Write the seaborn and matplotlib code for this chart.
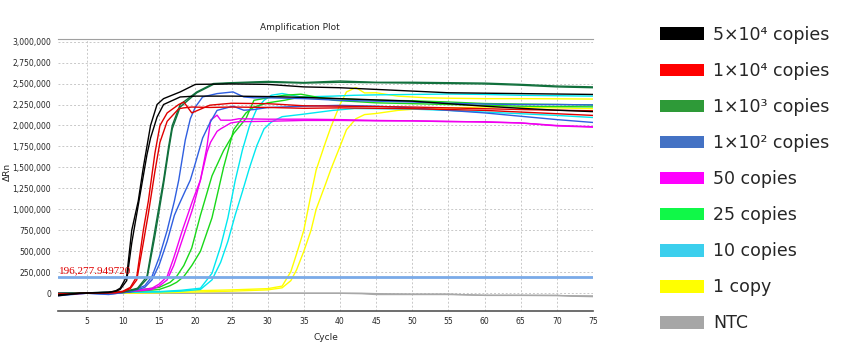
import numpy as np
import pandas as pd
import seaborn as sns
import matplotlib.pyplot as plt
from matplotlib.patches import Patch
from matplotlib.ticker import MultipleLocator, FuncFormatter

sns.set_style('white')
plt.rcParams['font.family'] = ['DejaVu Sans']

# dRn values, in thousands
samples = ['5×10⁴ copies', '1×10⁴ copies', '1×10³ copies', '1×10² copies',
           '50 copies', '25 copies', '10 copies', '1 copy', 'NTC']
line_colors = ['#000000', '#e00000', '#11703c', '#2f5fe0', '#f000f0',
               '#18d818', '#00e8f0', '#ffff00', '#a8a8a8']
legend_colors = ['#000000', '#ff0000', '#2e9a38', '#4472c4', '#ff00ff',
                 '#10f848', '#3bcfed', '#ffff00', '#a6a6a6']

cyc_black = [1, 4, 8, 9, 9.6, 10.5, 11.2, 12.1, 12.8, 13.3, 13.8, 14.7, 15.6, 17.9,
             20, 25, 30, 35, 40, 45, 50, 55, 60, 65, 70, 75]
black_a = [-30, 0, 10, 30, 60, 200, 750, 1100, 1500, 1750, 2000, 2250, 2320, 2400,
           2490, 2495, 2490, 2460, 2450, 2430, 2410, 2390, 2385, 2380, 2375, 2370]
black_b = [-20, 0, 10, 25, 45, 150, 600, 1050, 1400, 1650, 1850, 2100, 2250, 2340,
           2350, 2350, 2345, 2335, 2320, 2305, 2290, 2260, 2230, 2205, 2182, 2165]

cyc_red = [1, 5, 9, 10, 11, 11.9, 12.8, 13.5, 14.4, 15.1, 16.1, 17.7, 18.4, 19.5,
           22, 25, 30, 35, 40, 45, 50, 55, 60, 65, 70, 75]
red_a = [-10, 0, 10, 25, 70, 200, 750, 1100, 1667, 2000, 2150, 2250, 2280, 2150,
         2242, 2265, 2260, 2235, 2230, 2225, 2220, 2210, 2200, 2190, 2182, 2175]
red_b = [-10, 0, 5, 20, 55, 160, 600, 950, 1450, 1800, 2050, 2200, 2210, 2220,
         2215, 2220, 2215, 2205, 2210, 2205, 2200, 2190, 2180, 2160, 2140, 2120]

cyc_dkgreen = [1, 5, 10, 12, 13.3, 14.4, 15.1, 15.6, 16.3, 16.8, 17.9, 20.2, 22.5,
               25, 30, 35, 40, 45, 50, 55, 60, 65, 70, 75]
dkgreen_a = [0, 5, 15, 60, 200, 750, 1100, 1349, 1750, 2000, 2250, 2400, 2500,
             2510, 2525, 2512, 2530, 2515, 2515, 2510, 2505, 2490, 2470, 2460]
dkgreen_b = [0, 5, 15, 50, 170, 680, 1040, 1300, 1700, 1960, 2220, 2390, 2490,
             2505, 2515, 2505, 2515, 2510, 2505, 2500, 2495, 2480, 2460, 2450]

cyc_blue = [1, 5, 8, 11, 13, 14, 15, 16.1, 17.1, 17.7, 18.6, 19.3, 20, 21, 22, 23,
            25.2, 26.7, 28.1, 30, 35, 40, 45, 50, 55, 60, 65, 70, 75]
blue_a = [-30, 0, -15, 20, 90, 200, 430, 750, 1100, 1349, 1825, 2080, 2220, 2340,
          2360, 2380, 2400, 2340, 2330, 2330, 2320, 2300, 2290, 2280, 2265, 2255,
          2250, 2250, 2245]
blue_b = [-20, 0, -10, 15, 70, 160, 340, 620, 930, 1050, 1220, 1349, 1550, 1850,
          2030, 2180, 2230, 2182, 2190, 2214, 2230, 2240, 2230, 2210, 2180, 2150,
          2110, 2070, 2036]

cyc_magenta = [1, 5, 10, 14, 15, 16.1, 17, 18.2, 19.6, 20.7, 21.6, 22.1, 23, 23.5,
               24.9, 26, 30, 35, 40, 45, 50, 55, 60, 65, 70, 75]
magenta_a = [0, 5, 15, 60, 110, 200, 420, 750, 1100, 1349, 1746, 2063, 2123, 2063,
             2063, 2080, 2075, 2075, 2070, 2060, 2055, 2050, 2040, 2030, 2000, 1985]
magenta_b = [0, 5, 10, 45, 85, 160, 330, 640, 1000, 1350, 1680, 1800, 1930, 1960,
             2030, 2045, 2050, 2060, 2060, 2055, 2055, 2045, 2045, 2030, 1995, 1980]

cyc_green = [1, 5, 10, 15, 16.5, 17.4, 18.4, 19.5, 20.7, 22.3, 23.9, 25.3, 27, 28.1,
             30, 32.3, 34.6, 39.2, 45, 50, 55, 60, 65, 70, 75]
green_a = [0, 5, 15, 70, 130, 200, 330, 540, 930, 1400, 1700, 1905, 2083, 2300,
           2330, 2360, 2373, 2300, 2270, 2260, 2250, 2240, 2230, 2225, 2222]
green_b = [0, 5, 10, 45, 90, 130, 200, 330, 500, 900, 1500, 1950, 2150, 2220,
           2270, 2300, 2340, 2320, 2300, 2295, 2280, 2262, 2255, 2250, 2245]

cyc_cyan = [1, 5, 10, 15, 18, 20.7, 22.3, 23.5, 24.5, 25.5, 26.5, 27.5, 28.5, 29.5,
            30.5, 32, 34.6, 39, 42, 45, 50, 55, 60, 65, 70, 75]
cyan_a = [0, 5, 10, 20, 35, 60, 238, 560, 900, 1340, 1706, 2000, 2200, 2300,
          2360, 2381, 2340, 2350, 2360, 2365, 2370, 2375, 2370, 2360, 2355, 2350]
cyan_b = [0, 5, 10, 15, 25, 45, 160, 370, 620, 930, 1210, 1500, 1760, 1960,
          2040, 2105, 2131, 2180, 2202, 2200, 2195, 2180, 2160, 2140, 2120, 2095]

cyc_yellow = [1, 10, 15, 20, 25, 30, 32, 33.2, 34, 35, 36, 36.7, 38, 38.75, 40,
              40.9, 42.2, 43.4, 45, 48, 52, 55, 60, 65, 70, 75]
yellow_a = [0, 5, 15, 30, 40, 55, 85, 257, 470, 752, 1180, 1468, 1800, 1983, 2250,
            2400, 2452, 2388, 2390, 2350, 2330, 2325, 2320, 2320, 2318, 2315]
yellow_b = [0, 0, 5, 15, 25, 40, 65, 150, 280, 500, 752, 1000, 1300, 1480, 1750,
            1950, 2080, 2130, 2143, 2180, 2205, 2210, 2220, 2215, 2210, 2200]

cyc_ntc = [1, 10, 20, 30, 40, 43, 45, 50, 55, 58, 60, 65, 70, 72, 75]
ntc_a = [0, 0, 0, 0, 0, -5, -15, -15, -15, -20, -25, -25, -25, -35, -40]
ntc_b = [0, 0, 0, 0, 0, 0, -5, -10, -10, -20, -25, -25, -28, -30, -32]

threshold = 196277.949720

curves = [
    (samples[0], cyc_black, black_a, black_b),
    (samples[1], cyc_red, red_a, red_b),
    (samples[2], cyc_dkgreen, dkgreen_a, dkgreen_b),
    (samples[3], cyc_blue, blue_a, blue_b),
    (samples[4], cyc_magenta, magenta_a, magenta_b),
    (samples[5], cyc_green, green_a, green_b),
    (samples[6], cyc_cyan, cyan_a, cyan_b),
    (samples[7], cyc_yellow, yellow_a, yellow_b),
    (samples[8], cyc_ntc, ntc_a, ntc_b),
]
rows = []
for name, cyc, va, vb in curves:
    for rep, vals in (('A', va), ('B', vb)):
        for c, v in zip(cyc, vals):
            rows.append((name, rep, c, v * 1000))
df = pd.DataFrame(rows, columns=['sample', 'rep', 'cycle', 'drn'])

fig = plt.figure(figsize=(8.63, 3.57), dpi=100)
ax = fig.add_axes([0.0672, 0.129, 0.620, 0.762])

pal = dict(zip(samples, line_colors))
sns.lineplot(data=df, x='cycle', y='drn', hue='sample', units='rep',
             estimator=None, sort=False, hue_order=samples[::-1], palette=pal,
             linewidth=1, legend=False, ax=ax)

ax.axhline(threshold, color='#7aaae8', lw=2, zorder=5)
ax.text(1.1, threshold + 15000, f'{threshold:,.6f}', color='#e00000',
        fontsize=8, family='Liberation Serif', va='bottom', ha='left', zorder=6)

ax.set_xlim(1, 75)
ax.set_ylim(-211000, 3032000)
ax.xaxis.set_major_locator(MultipleLocator(5))
ax.set_yticks(np.arange(0, 3000001, 250000))
ax.yaxis.set_major_formatter(FuncFormatter(lambda v, p: f'{v:,.0f}'))
ax.grid(True, color='#c8c8c8', linestyle=(0, (2, 2)), lw=0.7)
ax.tick_params(axis='y', direction='in', length=3, color='#808080', labelsize=5.5, pad=5)
ax.tick_params(axis='x', length=0, labelsize=5.5, pad=4)
for s in ['left', 'right']:
    ax.spines[s].set_visible(False)
ax.spines['top'].set_color('#a0a0a0')
ax.spines['bottom'].set_color('#555555')
ax.spines['bottom'].set_linewidth(1.2)

ax.set_xlabel('Cycle', fontsize=6.5)
ax.set_ylabel('ΔRn', fontsize=6.5)
ax.xaxis.set_label_coords(0.50, -0.081)
ax.yaxis.set_label_coords(-0.086, 0.51)
fig.text(300 / 863, 1 - 28 / 357, 'Amplification Plot', ha='center', va='center', fontsize=6.5)

handles = [Patch(facecolor=c, edgecolor='none') for c in legend_colors]
leg = fig.legend(handles, samples, loc='upper left', bbox_to_anchor=(0.757, 0.947),
                 frameon=False, fontsize=12.5, handlelength=2.5, handleheight=0.75,
                 handletextpad=0.55, labelspacing=1.04, borderaxespad=0)
for t in leg.get_texts():
    t.set_color('#262626')

fig.savefig('out.png', dpi=100)
